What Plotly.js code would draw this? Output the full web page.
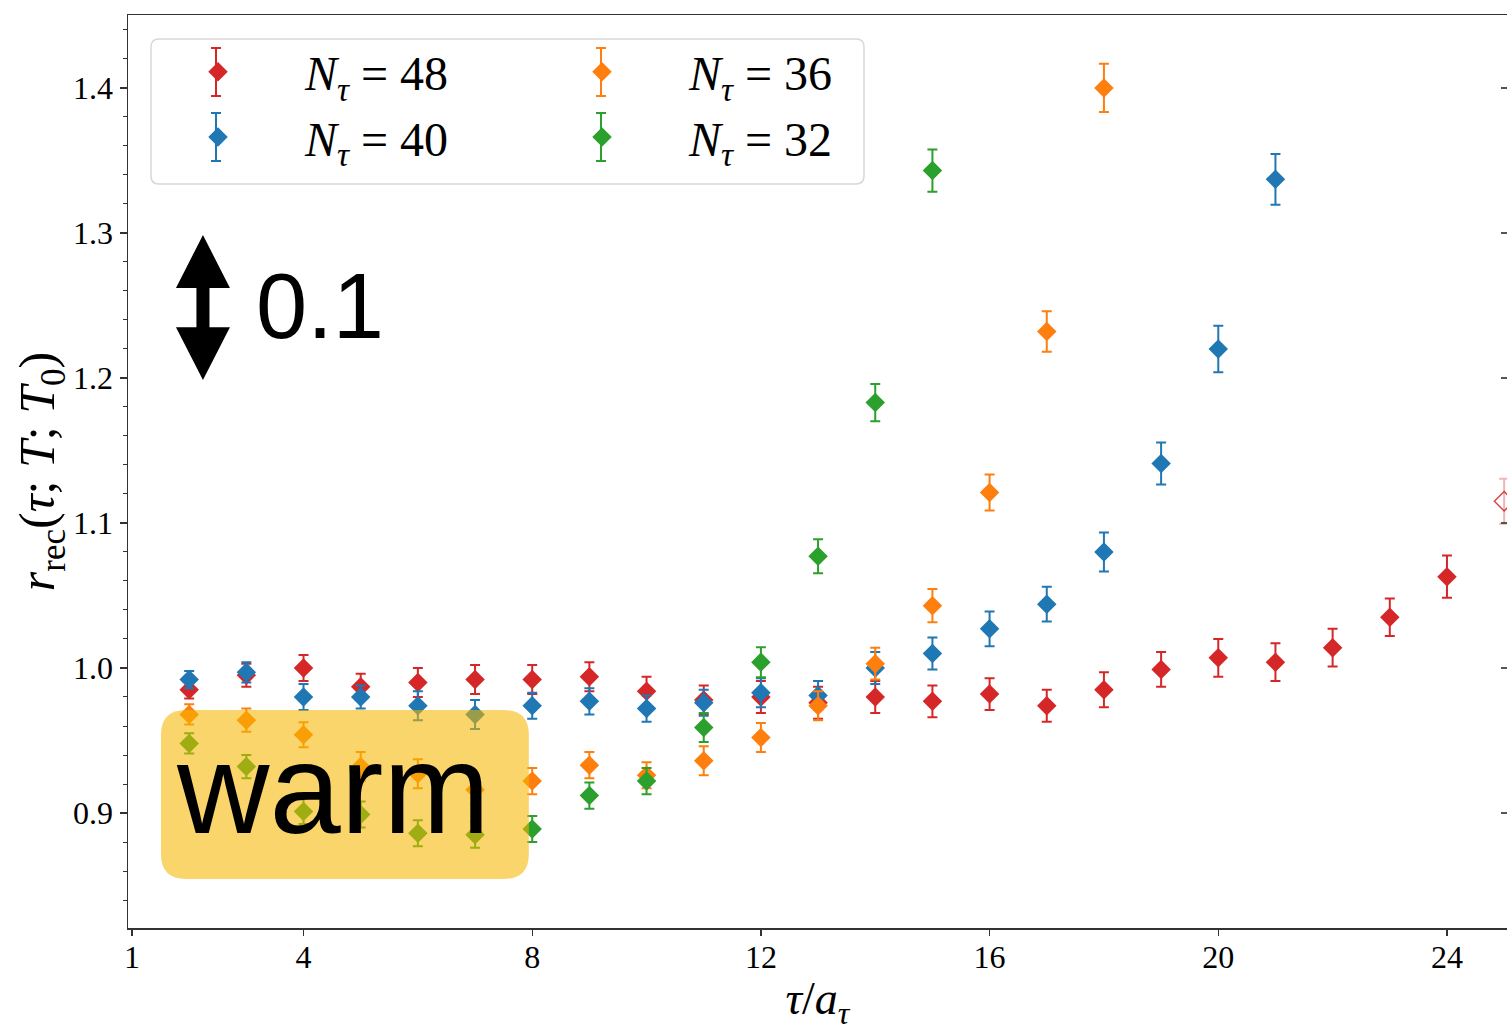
<!DOCTYPE html>
<html>
<head>
<meta charset="utf-8">
<script src="https://cdn.plot.ly/plotly-3.0.1.min.js"></script>
<style>
  html, body { margin: 0; padding: 0; background: #fff; }
  #chart { width: 1507px; height: 1031px; }
</style>
</head>
<body>
<div id="chart"></div>
<script>
// ---- data ----
const tau48 = [2,3,4,5,6,7,8,9,10,11,12,13,14,15,16,17,18,19,20,21,22,23,24];
const r48   = [0.985,0.995,1.000,0.987,0.990,0.992,0.992,0.994,0.984,0.978,0.980,0.976,0.980,0.977,0.982,0.974,0.985,0.999,1.007,1.004,1.014,1.035,1.063];
const e48   = [0.006,0.008,0.009,0.009,0.010,0.010,0.010,0.010,0.010,0.010,0.011,0.011,0.011,0.011,0.011,0.011,0.012,0.012,0.013,0.013,0.013,0.013,0.0145];

const tau48open = [25];
const r48open   = [1.115];
const e48open   = [0.0155];

const tau40 = [2,3,4,5,6,7,8,9,10,11,12,13,14,15,16,17,18,19,20,21];
const r40   = [0.992,0.997,0.980,0.980,0.974,0.968,0.974,0.977,0.972,0.976,0.983,0.981,1.000,1.010,1.027,1.044,1.080,1.141,1.220,1.337];
const e40   = [0.006,0.007,0.009,0.008,0.010,0.010,0.009,0.009,0.009,0.009,0.010,0.010,0.011,0.011,0.012,0.012,0.0135,0.0145,0.016,0.0175];

const tau36 = [2,3,4,5,6,7,8,9,10,11,12,13,14,15,16,17,18];
const r36   = [0.968,0.964,0.954,0.932,0.927,0.916,0.922,0.933,0.926,0.936,0.952,0.974,1.003,1.043,1.121,1.232,1.400];
const e36   = [0.007,0.008,0.0086,0.010,0.010,0.010,0.009,0.009,0.009,0.010,0.010,0.010,0.011,0.0114,0.0124,0.014,0.0166];

const tau32 = [2,3,4,5,6,7,8,9,10,11,12,13,14,15];
const r32   = [0.948,0.932,0.901,0.899,0.886,0.885,0.889,0.912,0.922,0.959,1.004,1.077,1.183,1.343];
const e32   = [0.007,0.008,0.0086,0.009,0.009,0.009,0.009,0.009,0.009,0.010,0.0103,0.0117,0.0128,0.0145];

const seriesNames = ["<i>N</i><sub><i>τ</i></sub> = 48","<i>N</i><sub><i>τ</i></sub> = 40","<i>N</i><sub><i>τ</i></sub> = 36","<i>N</i><sub><i>τ</i></sub> = 32"];
const xTickVals = [1,4,8,12,16,20,24];
const yTickVals = [0.9,1.0,1.1,1.2,1.3,1.4];
const yTickText = ["0.9","1.0","1.1","1.2","1.3","1.4"];

// ---- styling / geometry ----
const W = 1507, H = 1031;
const M = {l: 128, r: 0, t: 15, b: 103};
const PW = W - M.l - M.r, PH = H - M.t - M.b;
const px2paperX = p => (p - M.l) / PW;
const px2paperY = p => (H - M.b - p) / PH;

const colors = ["#d62728","#1f77b4","#ff7f0e","#2ca02c"];
const serif = "Liberation Serif, Times New Roman, serif";
const sans = "Liberation Sans, Arial, Helvetica, sans-serif";
const yRange = [0.8207, 1.4503];

function series(x, y, e, name, color, legendId) {
  return {
    type: "scatter", mode: "markers", x: x, y: y, name: name,
    legend: legendId,
    marker: {symbol: "diamond", size: 15, color: color, line: {width: 0}},
    error_y: {type: "data", array: e, visible: true, color: color, thickness: 2, width: 5},
    cliponaxis: true
  };
}

const traces = [
  series(tau48, r48, e48, seriesNames[0], colors[0], "legend"),
  {
    type: "scatter", mode: "markers", x: tau48open, y: r48open, showlegend: false,
    marker: {symbol: "diamond-open", size: 15, color: "rgba(214,39,40,0.85)", line: {width: 1.5}},
    error_y: {type: "data", array: e48open, visible: true, color: "rgba(214,39,40,0.35)", thickness: 2, width: 5}
  },
  series(tau40, r40, e40, seriesNames[1], colors[1], "legend"),
  series(tau36, r36, e36, seriesNames[2], colors[2], "legend2"),
  series(tau32, r32, e32, seriesNames[3], colors[3], "legend2"),
  // empty helper trace so the right-hand tick axis is drawn
  {type: "scatter", mode: "markers", x: [], y: [], yaxis: "y2", showlegend: false, hoverinfo: "skip"}
];

// scale-bar arrow (0.1 in y), and the "warm" box, in data units
const ax = 2.241, hw = 0.472, sw = 0.114;
const yTop = 1.2986, yHB1 = 1.262, yHB2 = 1.235, yBot = 1.1986;
const arrowPath = `M ${ax},${yTop} L ${ax+hw},${yHB1} L ${ax+sw},${yHB1} L ${ax+sw},${yHB2} L ${ax+hw},${yHB2} L ${ax},${yBot} L ${ax-hw},${yHB2} L ${ax-sw},${yHB2} L ${ax-sw},${yHB1} L ${ax-hw},${yHB1} Z`;

const bx0 = 1.507, bx1 = 7.941, by0 = 0.8545, by1 = 0.971, rx = 0.437, ry = 0.0172;
const boxPath = `M ${bx0+rx},${by1} L ${bx1-rx},${by1} Q ${bx1},${by1} ${bx1},${by1-ry} L ${bx1},${by0+ry} Q ${bx1},${by0} ${bx1-rx},${by0} L ${bx0+rx},${by0} Q ${bx0},${by0} ${bx0},${by0+ry} L ${bx0},${by1-ry} Q ${bx0},${by1} ${bx0+rx},${by1} Z`;

// legend frame (rounded) in paper units
function roundRectPaper(x0, y0, x1, y1, r) {
  const X0 = px2paperX(x0), X1 = px2paperX(x1), Y0 = px2paperY(y0), Y1 = px2paperY(y1);
  const rX = r / PW, rY = r / PH;
  return `M ${X0+rX},${Y0} L ${X1-rX},${Y0} Q ${X1},${Y0} ${X1},${Y0-rY} L ${X1},${Y1+rY} Q ${X1},${Y1} ${X1-rX},${Y1} L ${X0+rX},${Y1} Q ${X0},${Y1} ${X0},${Y1+rY} L ${X0},${Y0-rY} Q ${X0},${Y0} ${X0+rX},${Y0} Z`;
}
// legend key error bars (pixel centres of the legend keys)
const keyPos = [[216,72,colors[0]],[216,137,colors[1]],[601,72,colors[2]],[601,137,colors[3]]];
const keyShapes = [];
keyPos.forEach(([kx, ky, c]) => {
  const X = px2paperX(kx), cw = 5 / PW;
  const Yt = px2paperY(ky - 24), Yb = px2paperY(ky + 24);
  keyShapes.push({type: "line", xref: "paper", yref: "paper", x0: X, x1: X, y0: Yb, y1: Yt, line: {color: c, width: 2}, layer: "above"});
  keyShapes.push({type: "line", xref: "paper", yref: "paper", x0: X - cw, x1: X + cw, y0: Yt, y1: Yt, line: {color: c, width: 2}, layer: "above"});
  keyShapes.push({type: "line", xref: "paper", yref: "paper", x0: X - cw, x1: X + cw, y0: Yb, y1: Yb, line: {color: c, width: 2}, layer: "above"});
});

const legendCommon = {
  yanchor: "top", xanchor: "left", orientation: "v",
  itemwidth: 164, bgcolor: "rgba(0,0,0,0)", borderwidth: 0,
  font: {family: serif, size: 48, color: "#000"}, tracegroupgap: 0
};

const layout = {
  width: W, height: H,
  margin: {l: M.l, r: M.r, t: M.t, b: M.b, pad: 0},
  paper_bgcolor: "#ffffff", plot_bgcolor: "#ffffff",
  showlegend: true,
  legend: Object.assign({x: px2paperX(131), y: px2paperY(34)}, legendCommon),
  legend2: Object.assign({x: px2paperX(515), y: px2paperY(34)}, legendCommon),
  xaxis: {
    range: [0.93, 25.05], showgrid: false, zeroline: false,
    showline: true, linecolor: "#333", linewidth: 1.5, mirror: true,
    ticks: "outside", ticklen: 6, tickwidth: 1.2, tickcolor: "#333",
    ticklabelstandoff: -6,
    tickmode: "array", tickvals: xTickVals, ticktext: xTickVals.map(String),
    tickfont: {family: serif, size: 32, color: "#000"},
    title: {text: "<i>τ</i>/<i>a</i><sub><i>τ</i></sub>", font: {family: serif, size: 46, color: "#000"}, standoff: 18}
  },
  yaxis: {
    range: yRange, showgrid: false, zeroline: false,
    showline: true, linecolor: "#333", linewidth: 1.5,
    ticks: "outside", ticklen: 7, tickwidth: 1.2, tickcolor: "#333",
    tickmode: "array", tickvals: yTickVals, ticktext: yTickText,
    tickfont: {family: serif, size: 32, color: "#000"},
    minor: {dtick: 0.02, tick0: 0.8, ticks: "outside", ticklen: 4, tickwidth: 1, tickcolor: "#333"},
    title: {text: "<i>r</i><sub>rec</sub>(<i>τ</i>; <i>T</i>; <i>T</i><sub>0</sub>)", font: {family: serif, size: 50, color: "#000"}, standoff: 2}
  },
  yaxis2: {
    overlaying: "y", side: "right", range: yRange,
    showgrid: false, zeroline: false, showline: false, showticklabels: false,
    ticks: "inside", ticklen: 6, tickwidth: 1.2, tickcolor: "#555",
    tickmode: "array", tickvals: yTickVals
  },
  shapes: [
    {type: "path", xref: "x", yref: "y", path: arrowPath, fillcolor: "#000", line: {width: 0}, layer: "above"},
    {type: "path", xref: "x", yref: "y", path: boxPath, fillcolor: "rgba(245,183,0,0.58)", line: {width: 0}, layer: "above"},
    {type: "path", xref: "paper", yref: "paper", path: roundRectPaper(151, 39, 864, 184, 8),
     fillcolor: "rgba(255,255,255,0.85)", line: {color: "#d8d8d8", width: 1.5}, layer: "above"}
  ].concat(keyShapes),
  annotations: [
    {xref: "x", yref: "y", x: 4.28, y: 1.2497, text: "0.1", showarrow: false,
     xanchor: "center", yanchor: "middle", font: {family: sans, size: 92, color: "#000"}},
    {xref: "x", yref: "y", x: 4.51, y: 0.917, text: "warm", showarrow: false,
     xanchor: "center", yanchor: "middle", font: {family: sans, size: 128, color: "#000"}}
  ]
};

Plotly.newPlot("chart", traces, layout, {displayModeBar: false, staticPlot: true});
</script>
</body>
</html>
